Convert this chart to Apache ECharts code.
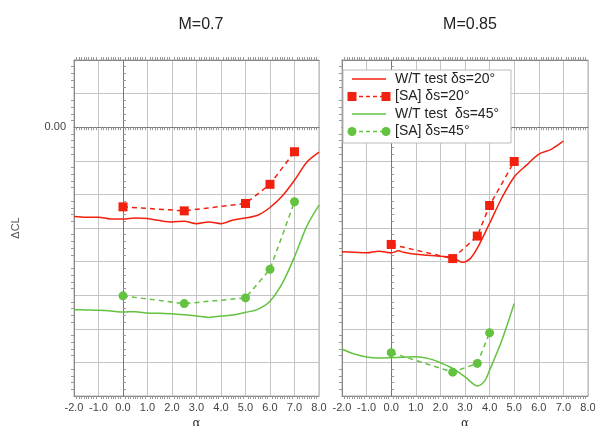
<!DOCTYPE html>
<html lang="en">
<head>
<meta charset="UTF-8">
<title>dCL vs alpha</title>
<script src="https://cdn.jsdelivr.net/npm/echarts@6/dist/echarts.min.js"></script>
<style>
  html, body { margin: 0; padding: 0; background: #fff; }
  #main { width: 595px; height: 426px; }
</style>
</head>
<body>
<div id="main"></div>
<script>
// M=0.7 panel
var wtAlpha07 = [-2, -1.5, -1, -0.5, 0, 0.5, 1, 1.5, 2, 2.5, 3, 3.5, 4, 4.5, 5, 5.5, 6, 6.5, 7, 7.5, 8];
var wt20_07 = [-2.66, -2.68, -2.68, -2.73, -2.73, -2.70, -2.72, -2.78, -2.82, -2.80, -2.87, -2.82, -2.87, -2.76, -2.70, -2.62, -2.39, -2.05, -1.58, -1.04, -0.74];
var wt45_07 = [-5.43, -5.44, -5.45, -5.47, -5.50, -5.49, -5.53, -5.54, -5.55, -5.58, -5.62, -5.66, -5.62, -5.59, -5.51, -5.42, -5.18, -4.65, -3.86, -2.95, -2.32];
var saAlpha07 = [0, 2.5, 5, 6, 7];
var sa20_07 = [-2.37, -2.49, -2.27, -1.70, -0.73];
var sa45_07 = [-5.02, -5.25, -5.08, -4.23, -2.22];

// M=0.85 panel
var wtAlpha085_20 = [-2, -1.5, -1, -0.5, 0, 0.3, 0.5, 1, 1.5, 2, 2.5, 2.9, 3.2, 3.5, 4, 4.5, 5, 5.5, 6, 6.5, 7];
var wt20_085 = [-3.71, -3.72, -3.74, -3.69, -3.74, -3.68, -3.72, -3.78, -3.81, -3.84, -3.88, -4.02, -3.92, -3.60, -2.86, -2.10, -1.48, -1.13, -0.80, -0.66, -0.41];
var wtAlpha085_45 = [-2, -1.5, -1, -0.5, 0, 0.5, 1, 1.5, 2, 2.5, 3, 3.5, 3.8, 4, 4.5, 5];
var wt45_085 = [-6.61, -6.75, -6.84, -6.87, -6.86, -6.85, -6.83, -6.88, -7.01, -7.18, -7.43, -7.70, -7.55, -7.23, -6.34, -5.25];
var saAlpha085_20 = [0, 2.5, 3.5, 4, 5];
var sa20_085 = [-3.49, -3.91, -3.24, -2.33, -1.02];
var saAlpha085_45 = [0, 2.5, 3.5, 4];
var sa45_085 = [-6.71, -7.29, -7.03, -6.12];

var titles = ['M=0.7', 'M=0.85'];
var names = ['W/T test \u03b4s=20\u00b0', '[SA] \u03b4s=20\u00b0', 'W/T test  \u03b4s=45\u00b0', '[SA] \u03b4s=45\u00b0'];

var RED = '#f2210f';
var GREEN = '#63c23f';
var FONT = 'Liberation Sans';

function zip(xs, ys) {
  return xs.map(function (x, i) { return [x, ys[i]]; });
}

var myChart = echarts.init(document.getElementById('main'));

var grids = [
  { left: 74, right: 276, top: 60, bottom: 30 },
  { left: 342, right: 7, top: 60, bottom: 30 }
];

var xAxes = [], yAxes = [];
grids.forEach(function (g, gi) {
  // main x axis (bottom, labels)
  xAxes.push({
    gridIndex: gi, type: 'value', min: -2, max: 8, interval: 1,
    name: '\u03b1', nameLocation: 'middle', nameGap: 20,
    nameTextStyle: { fontFamily: 'DejaVu Serif', fontSize: 12, color: '#333' },
    axisLine: { onZero: false, lineStyle: { color: '#888' } },
    axisTick: { show: false },
    minorTick: { show: true, splitNumber: 10, length: 3, lineStyle: { color: '#999' } },
    axisLabel: { fontFamily: FONT, fontSize: 11, color: '#444', margin: 6,
      formatter: function (v) { return v.toFixed(1); } },
    splitLine: { show: true, lineStyle: { color: '#c4c4c4' } }
  });
  // top edge ticks
  xAxes.push({
    gridIndex: gi, type: 'value', min: -2, max: 8, interval: 1, position: 'top',
    axisLine: { onZero: false, lineStyle: { color: '#888' } },
    axisTick: { show: false },
    minorTick: { show: true, splitNumber: 10, length: 3, lineStyle: { color: '#999' } },
    axisLabel: { show: false }, splitLine: { show: false }
  });
  // horizontal zero line with ticks
  xAxes.push({
    gridIndex: gi, type: 'value', min: -2, max: 8, interval: 1, position: 'bottom',
    axisLine: { onZero: true, onZeroAxisIndex: gi * 2, lineStyle: { color: '#777' } },
    axisTick: { show: false },
    minorTick: { show: true, splitNumber: 10, length: 3, lineStyle: { color: '#999' } },
    axisLabel: { show: false }, splitLine: { show: false }
  });
  // main y axis (left, label 0.00)
  yAxes.push({
    gridIndex: gi, type: 'value', min: -8, max: 2, interval: 1,
    name: gi === 0 ? '\u0394CL' : '', nameLocation: 'middle', nameGap: 53,
    nameTextStyle: { fontFamily: FONT, fontSize: 11, color: '#555' },
    axisLine: { onZero: false, lineStyle: { color: '#888' } },
    axisTick: { show: false },
    minorTick: { show: true, splitNumber: 5, length: 3, lineStyle: { color: '#999' } },
    axisLabel: { fontFamily: FONT, fontSize: 11, color: '#444', margin: 8,
      formatter: function (v) { return (gi === 0 && v === 0) ? '0.00' : ''; } },
    splitLine: { show: true, lineStyle: { color: '#c4c4c4' } }
  });
  // vertical zero line with ticks
  yAxes.push({
    gridIndex: gi, type: 'value', min: -8, max: 2, interval: 1,
    axisLine: { onZero: true, onZeroAxisIndex: gi * 3, lineStyle: { color: '#777' } },
    axisTick: { show: false },
    minorTick: { show: true, splitNumber: 5, length: 3, lineStyle: { color: '#999' } },
    axisLabel: { show: false }, splitLine: { show: false }
  });
});

function wtSeries(name, gi, data, color) {
  return {
    name: name, type: 'line', xAxisIndex: gi * 3, yAxisIndex: gi * 2,
    data: data, symbol: 'none', smooth: 0.3,
    lineStyle: { color: color, width: 1.5 }, itemStyle: { color: color },
    z: 3
  };
}
function saSeries(name, gi, data, color, symbol) {
  return {
    name: name, type: 'line', xAxisIndex: gi * 3, yAxisIndex: gi * 2,
    data: data, symbol: symbol, symbolSize: 9, showSymbol: true,
    lineStyle: { color: color, width: 1.5, type: [5, 4] },
    itemStyle: { color: color },
    z: 4
  };
}

var series = [
  wtSeries(names[0], 0, zip(wtAlpha07, wt20_07), RED),
  saSeries(names[1], 0, zip(saAlpha07, sa20_07), RED, 'rect'),
  wtSeries(names[2], 0, zip(wtAlpha07, wt45_07), GREEN),
  saSeries(names[3], 0, zip(saAlpha07, sa45_07), GREEN, 'circle'),
  wtSeries(names[0], 1, zip(wtAlpha085_20, wt20_085), RED),
  saSeries(names[1], 1, zip(saAlpha085_20, sa20_085), RED, 'rect'),
  wtSeries(names[2], 1, zip(wtAlpha085_45, wt45_085), GREEN),
  saSeries(names[3], 1, zip(saAlpha085_45, sa45_085), GREEN, 'circle')
];

// legend drawn as graphic: sample line with markers at both ends
var legendColors = [RED, RED, GREEN, GREEN];
var legendMarks = [null, 'rect', null, 'circle'];
var legendEls = [{
  type: 'rect', shape: { x: 343, y: 70, width: 168, height: 73 },
  style: { fill: '#fff', stroke: '#bbb', lineWidth: 1 }, z: 100
}];
names.forEach(function (nm, i) {
  var y = 79 + i * 17.5;
  var c = legendColors[i];
  legendEls.push({
    type: 'line', shape: { x1: 352, y1: y, x2: 386, y2: y },
    style: { stroke: c, lineWidth: 1.5, lineDash: legendMarks[i] ? [4, 3] : null }, z: 101
  });
  if (legendMarks[i] === 'rect') {
    [352, 386].forEach(function (x) {
      legendEls.push({ type: 'rect', shape: { x: x - 4.5, y: y - 4.5, width: 9, height: 9 },
        style: { fill: c }, z: 102 });
    });
  } else if (legendMarks[i] === 'circle') {
    [352, 386].forEach(function (x) {
      legendEls.push({ type: 'circle', shape: { cx: x, cy: y, r: 4.5 },
        style: { fill: c }, z: 102 });
    });
  }
  legendEls.push({
    type: 'text', x: 395, y: y, z: 102,
    style: { text: nm, fill: '#222', fontFamily: FONT, fontSize: 14, verticalAlign: 'middle' }
  });
});

var option = {
  animation: false,
  textStyle: { fontFamily: FONT },
  title: [
    { text: titles[0], left: 196, top: 12, textAlign: 'center',
      textStyle: { fontFamily: FONT, fontSize: 16, fontWeight: 'normal', color: '#222' } },
    { text: titles[1], left: 465, top: 12, textAlign: 'center',
      textStyle: { fontFamily: FONT, fontSize: 16, fontWeight: 'normal', color: '#222' } }
  ],
  grid: grids.map(function (g) {
    return { left: g.left, right: g.right, top: g.top, bottom: g.bottom,
      outerBoundsMode: 'none', containLabel: false,
      show: true, borderColor: '#aaa', borderWidth: 1 };
  }),
  xAxis: xAxes,
  yAxis: yAxes,
  series: series,
  graphic: legendEls
};

myChart.setOption(option);
</script>
</body>
</html>
